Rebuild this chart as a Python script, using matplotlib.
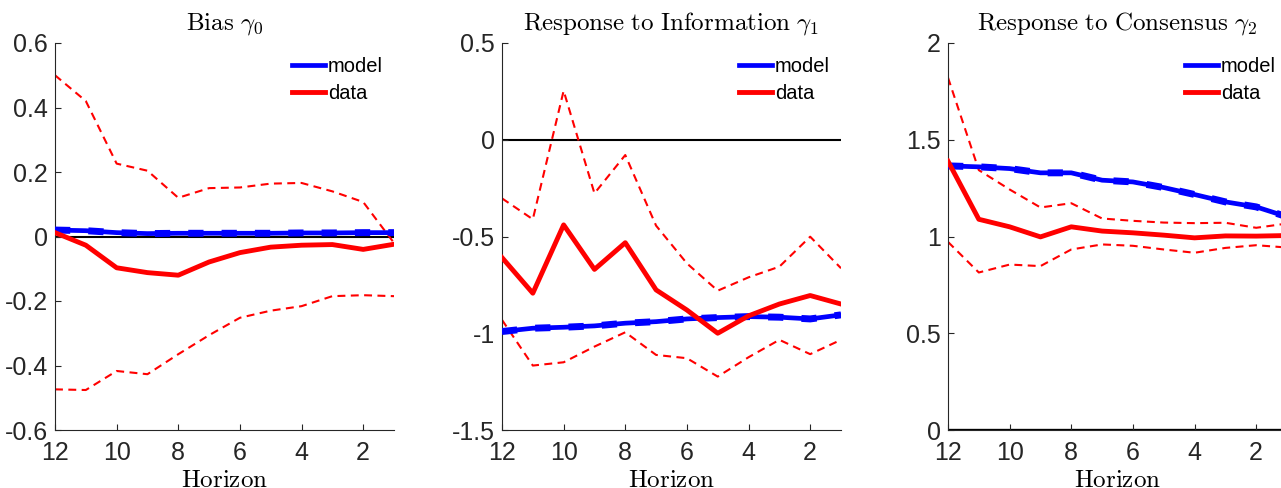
import matplotlib
matplotlib.use("Agg")
import matplotlib.pyplot as plt

plt.rcParams["font.family"] = ["Liberation Sans", "DejaVu Sans"]
plt.rcParams["mathtext.fontset"] = "cm"

horizon = [12, 11, 10, 9, 8, 7, 6, 5, 4, 3, 2, 1]

# Bias gamma_0
bias_model = [0.020, 0.018, 0.012, 0.009, 0.010, 0.010, 0.010, 0.010, 0.011, 0.011, 0.012, 0.012]
bias_data = [0.012, -0.027, -0.097, -0.112, -0.120, -0.079, -0.050, -0.033, -0.027, -0.025, -0.040, -0.024]
bias_hi = [0.500, 0.420, 0.226, 0.204, 0.120, 0.150, 0.152, 0.164, 0.166, 0.140, 0.107, -0.020]
bias_lo = [-0.474, -0.476, -0.417, -0.427, -0.365, -0.306, -0.252, -0.230, -0.216, -0.185, -0.182, -0.185]

# Response to information gamma_1
info_model = [-0.991, -0.974, -0.969, -0.962, -0.948, -0.940, -0.926, -0.919, -0.914, -0.917, -0.926, -0.905]
info_data = [-0.609, -0.793, -0.440, -0.670, -0.532, -0.776, -0.880, -1.000, -0.910, -0.849, -0.805, -0.849]
info_hi = [-0.303, -0.411, 0.253, -0.277, -0.079, -0.444, -0.639, -0.780, -0.711, -0.656, -0.501, -0.664]
info_lo = [-0.931, -1.167, -1.150, -1.069, -0.995, -1.112, -1.129, -1.224, -1.124, -1.034, -1.108, -1.034]

# Response to consensus gamma_2
cons_model = [1.365, 1.360, 1.351, 1.329, 1.329, 1.291, 1.282, 1.253, 1.217, 1.179, 1.153, 1.102]
cons_data = [1.389, 1.089, 1.050, 0.998, 1.050, 1.028, 1.019, 1.007, 0.993, 1.003, 1.002, 1.005]
cons_hi = [1.821, 1.343, 1.243, 1.150, 1.172, 1.093, 1.081, 1.072, 1.069, 1.071, 1.045, 1.067]
cons_lo = [0.972, 0.814, 0.855, 0.847, 0.933, 0.959, 0.952, 0.933, 0.916, 0.941, 0.955, 0.943]

titles = [r"$\mathrm{Bias}\ \gamma_0$",
          r"$\mathrm{Response\ to\ Information}\ \gamma_1$",
          r"$\mathrm{Response\ to\ Consensus}\ \gamma_2$"]
panels = [
    (bias_model, bias_data, bias_hi, bias_lo, (-0.6, 0.6), [-0.6, -0.4, -0.2, 0, 0.2, 0.4, 0.6]),
    (info_model, info_data, info_hi, info_lo, (-1.5, 0.5), [-1.5, -1, -0.5, 0, 0.5]),
    (cons_model, cons_data, cons_hi, cons_lo, (0, 2), [0, 0.5, 1, 1.5, 2]),
]

W, H = 1281, 488
fig = plt.figure(figsize=(W / 100, H / 100), dpi=100)
lefts = [55, 502, 948]
ax_w, ax_top, ax_bot = 339, 43, 430

for i, (model, data, hi, lo, ylim, yticks) in enumerate(panels):
    ax = fig.add_axes([lefts[i] / W, 1 - ax_bot / H, ax_w / W, (ax_bot - ax_top) / H])
    ax.axhline(0, color="black", lw=1.5 if i < 2 else 2.4, zorder=1)
    ax.plot(horizon, model, color="#0000ff", lw=3.4, label="model", zorder=3)
    ax.plot(horizon, model, color="#0000ff", lw=5.0, ls=(0, (2.2, 2.6)), zorder=3)
    ax.plot(horizon, data, color="#ff0000", lw=3.5, label="data", zorder=4)
    ax.plot(horizon, hi, color="#ff0000", lw=1.5, ls=(0, (3.8, 2.6)), zorder=2)
    ax.plot(horizon, lo, color="#ff0000", lw=1.5, ls=(0, (3.8, 2.6)), zorder=2)

    ax.set_xlim(12, 1)
    ax.set_ylim(*ylim)
    ax.set_xticks([12, 10, 8, 6, 4, 2])
    ax.set_yticks(yticks)
    ax.set_yticklabels([f"{t:g}" for t in yticks])
    ax.spines["top"].set_visible(False)
    ax.spines["right"].set_visible(False)
    for s in ("left", "bottom"):
        ax.spines[s].set_color("#262626")
        ax.spines[s].set_linewidth(0.8)
    ax.tick_params(direction="in", length=4, width=0.8, color="#262626",
                   labelsize=18, labelcolor="#262626")
    ax.tick_params(axis="x", pad=8)
    ax.tick_params(axis="y", pad=5)
    ax.set_title(titles[i], fontsize=18, pad=10)
    ax.set_xlabel(r"$\mathrm{Horizon}$", fontsize=18, labelpad=2)
    ax.legend(loc="upper right", bbox_to_anchor=(1 - 3 / ax_w, 1 - 6 / 387),
              borderaxespad=0, frameon=False, fontsize=14.5, handlelength=1.64,
              handletextpad=0.15, labelspacing=0.4)

fig.savefig("out.png", dpi=100)
